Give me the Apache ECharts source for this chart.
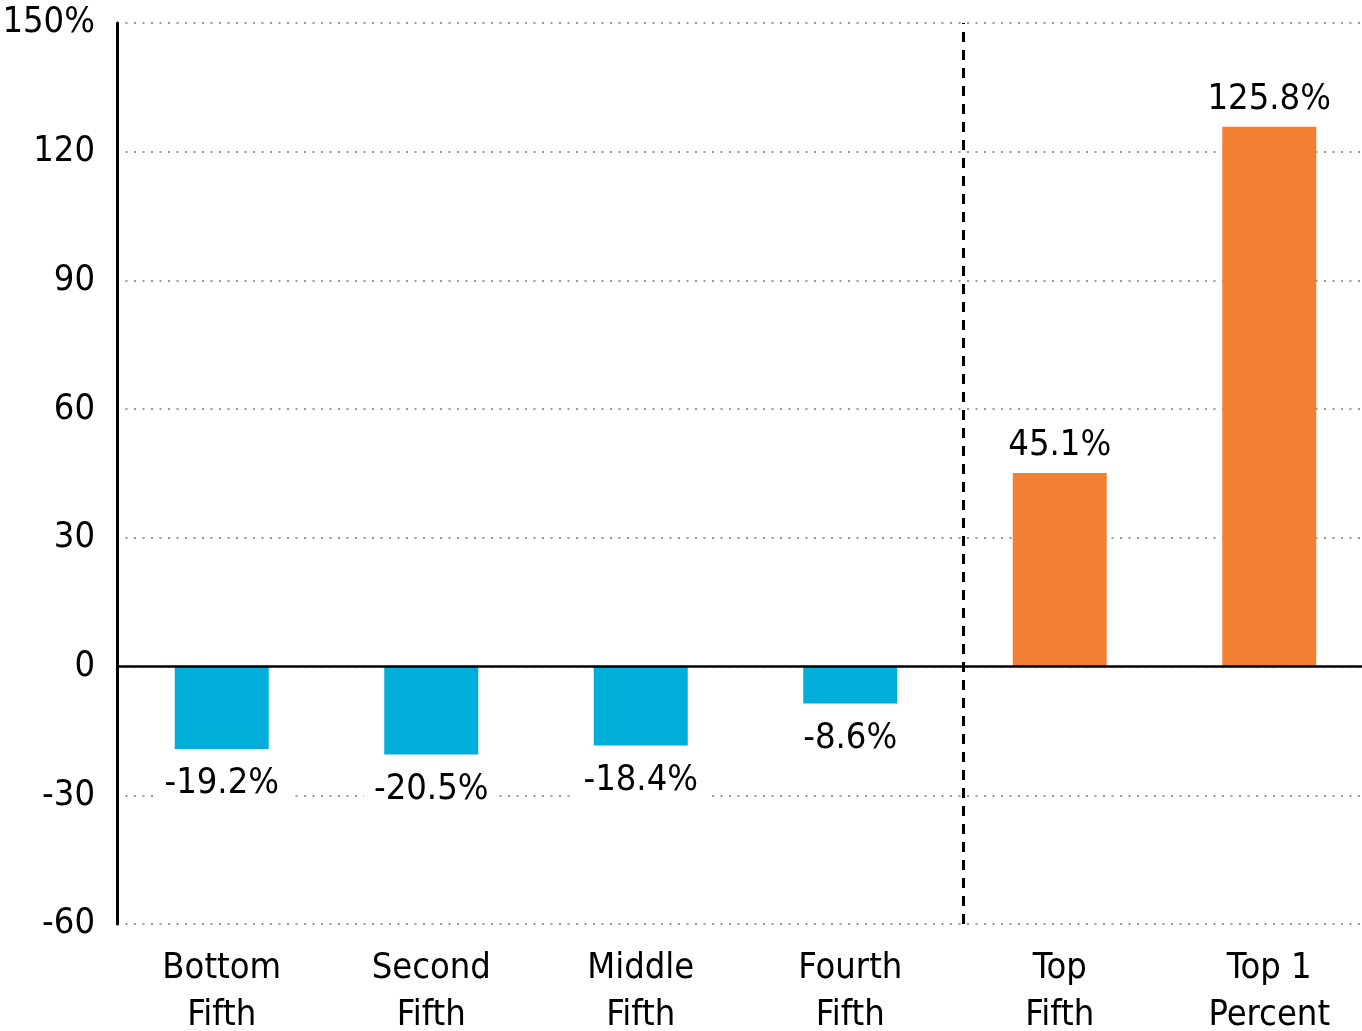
<!DOCTYPE html>
<html><head><meta charset="utf-8">
<script src="https://cdn.jsdelivr.net/npm/echarts@6/dist/echarts.min.js"></script>
<style>html,body{margin:0;padding:0;background:#fff}#c{width:1362px;height:1031px}</style>
</head><body><div id="c"></div>
<script>
var categories = ['Bottom\nFifth', 'Second\nFifth', 'Middle\nFifth', 'Fourth\nFifth', 'Top\nFifth', 'Top 1\nPercent'];
var values = [-19.2, -20.5, -18.4, -8.6, 45.1, 125.8];
var yTicks = { min: -60, max: 150, interval: 30 };
var dividerAt = 4.04;

var FONT = '"DejaVu Sans Condensed", "DejaVu Sans", sans-serif';
var STRETCH = 'condensed';
var FS = 36;
var BLUE = '#00AED9', ORANGE = '#F28033';
var chart = echarts.init(document.getElementById('c'));
chart.setOption({
  animation: false,
  backgroundColor: '#fff',
  textStyle: { fontFamily: FONT },
  grid: { left: 117, top: 23, width: 1257, height: 901, outerBoundsMode: 'none', containLabel: false },
  xAxis: [{
    type: 'category', data: categories,
    axisLine: { show: false }, axisTick: { show: false },
    axisLabel: { fontFamily: FONT, fontStyle: STRETCH, fontSize: FS, color: '#000', lineHeight: 47, margin: 21 }
  }, {
    type: 'value', min: 0, max: 6, show: false
  }],
  yAxis: {
    type: 'value', min: yTicks.min, max: yTicks.max, interval: yTicks.interval,
    axisLine: { show: true, lineStyle: { color: '#000', width: 3 } },
    axisTick: { show: false },
    axisLabel: { fontFamily: FONT, fontStyle: STRETCH, fontSize: FS, color: '#000', margin: 22,
      formatter: function (v) { return v === yTicks.max ? v + '%' : String(v); } },
    splitLine: { show: true, lineStyle: { color: '#999', width: 2, type: [2, 6.5] } }
  },
  series: [{
    type: 'bar', xAxisIndex: 0, barWidth: 94,
    data: values.map(function (v) {
      return {
        value: v,
        itemStyle: { color: v < 0 ? BLUE : ORANGE },
        label: { position: v < 0 ? 'bottom' : 'top', distance: v < 0 ? 15 : 7 }
      };
    }),
    label: {
      show: true, fontFamily: FONT, fontStyle: STRETCH, fontSize: FS, color: '#000',
      backgroundColor: '#fff', padding: [2, 10],
      formatter: function (p) { return p.value.toFixed(1) + '%'; }
    },
    markLine: {
      silent: true, symbol: 'none', label: { show: false },
      lineStyle: { color: '#000', width: 2.5, type: 'solid' },
      data: [{ yAxis: 0 }]
    },
    z: 3
  }, {
    type: 'line', xAxisIndex: 1, data: [],
    markLine: {
      silent: true, symbol: 'none', label: { show: false },
      lineStyle: { color: '#000', width: 3, type: [10, 8] },
      data: [{ xAxis: dividerAt }]
    }
  }]
});
</script></body></html>
